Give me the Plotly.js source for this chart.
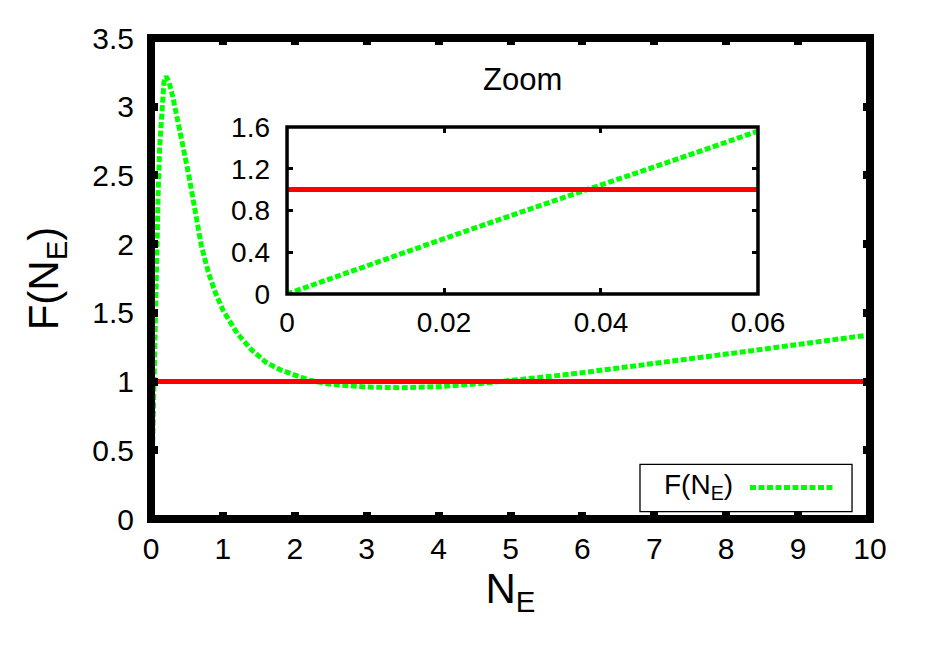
<!DOCTYPE html>
<html>
<head>
<meta charset="utf-8">
<script src="https://cdn.plot.ly/plotly-3.0.1.min.js"></script>
<style>
  html, body { margin: 0; padding: 0; background: #fff; }
  #chart { width: 926px; height: 649px; }
</style>
</head>
<body>
<div id="chart"></div>
<script>
// F(N_E)
var nE = [0, 0.01, 0.02, 0.03, 0.04, 0.05, 0.06, 0.08, 0.10, 0.12, 0.15, 0.18, 0.21,
          0.25, 0.30, 0.35, 0.40, 0.45, 0.50, 0.55, 0.60, 0.70, 0.80, 0.90, 1.0,
          1.1, 1.2, 1.4, 1.6, 1.8, 2.0, 2.2, 2.5, 3.0, 3.5, 4.0, 4.5, 5.0, 5.5,
          6.0, 7.0, 8.0, 9.0, 10.0];
var fNE = [0, 0.27, 0.53, 0.79, 1.04, 1.30, 1.56, 2.00, 2.38, 2.70, 3.02, 3.18, 3.22,
           3.18, 3.08, 2.96, 2.84, 2.70, 2.57, 2.43, 2.29, 1.99, 1.79, 1.64, 1.52,
           1.43, 1.35, 1.23, 1.14, 1.085, 1.045, 1.01, 0.98, 0.96, 0.955, 0.963, 0.982, 1.005, 1.035,
           1.065, 1.13, 1.20, 1.27, 1.34];

// reference line F = 1
var refN = [0, 10];
var refF = [1, 1];

var mainXTicks = [0, 1, 2, 3, 4, 5, 6, 7, 8, 9, 10];
var mainYTicks = [0, 0.5, 1, 1.5, 2, 2.5, 3, 3.5];
var zoomXTicks = [0, 0.02, 0.04, 0.06];
var zoomYTicks = [0, 0.4, 0.8, 1.2, 1.6];

var legendName = "F(N<sub>E</sub>)";

var FONT = "Liberation Sans, Arial, Helvetica, sans-serif";
var GREEN = "#00ff00";
var RED = "#ff0000";
var DOTS = "6px,2.5px";

var traces = [
  { x: nE, y: fNE, xaxis: "x", yaxis: "y", mode: "lines", name: legendName,
    line: { color: GREEN, width: 5, dash: DOTS } },
  { x: refN, y: refF, xaxis: "x", yaxis: "y", mode: "lines",
    line: { color: RED, width: 5 } },
  { x: nE, y: fNE, xaxis: "x2", yaxis: "y2", mode: "lines",
    line: { color: GREEN, width: 5, dash: DOTS } },
  { x: refN, y: refF, xaxis: "x2", yaxis: "y2", mode: "lines",
    line: { color: RED, width: 5 } }
];

function axisBase(ticks, len, w, size, standoff) {
  return {
    tickmode: "array", tickvals: ticks,
    ticks: "inside", ticklen: len, tickwidth: w, tickcolor: "#000",
    mirror: "ticks", showline: false, showgrid: false, zeroline: false,
    tickfont: { family: FONT, size: size, color: "#000" },
    ticklabelstandoff: standoff, fixedrange: true
  };
}

var xMain = axisBase(mainXTicks, 7, 8, 30, 9);
xMain.range = [0, 10];
xMain.anchor = "y";
xMain.title = { text: "N<sub>E</sub>", font: { family: FONT, size: 42, color: "#000" }, standoff: 4 };

var yMain = axisBase(mainYTicks, 7, 8, 30, 16);
yMain.range = [0, 3.5];
yMain.anchor = "x";
yMain.title = { text: "F(N<sub>E</sub>)", font: { family: FONT, size: 42, color: "#000" }, standoff: 20 };

var xZoom = axisBase(zoomXTicks, 6, 3, 28, 9);
xZoom.range = [0, 0.06];
xZoom.domain = [0.1892, 0.8442];
xZoom.anchor = "y2";

var yZoom = axisBase(zoomYTicks, 6, 3, 28, 16);
yZoom.range = [0, 1.6];
yZoom.domain = [0.4678, 0.815];
yZoom.anchor = "x2";

var layout = {
  width: 926, height: 649,
  margin: { l: 151, r: 56, t: 38, b: 130 },
  paper_bgcolor: "#fff", plot_bgcolor: "#fff",
  showlegend: false,
  font: { family: FONT, color: "#000" },
  xaxis: xMain, yaxis: yMain, xaxis2: xZoom, yaxis2: yZoom,
  shapes: [
    // main frame
    { type: "rect", xref: "x domain", yref: "y domain", x0: 0, x1: 1, y0: 0, y1: 1,
      line: { color: "#000", width: 8 }, layer: "above" },
    // inset frame
    { type: "rect", xref: "x2 domain", yref: "y2 domain", x0: 0, x1: 1, y0: 0, y1: 1,
      line: { color: "#000", width: 3.5 }, layer: "above" },
    // legend box
    { type: "rect", xref: "paper", yref: "paper", x0: 0.6801, x1: 0.975, y0: 0.0152, y1: 0.1137,
      line: { color: "#000", width: 1.3 }, fillcolor: "#fff", layer: "above" },
    // legend key
    { type: "line", xref: "paper", yref: "paper", x0: 0.8331, x1: 0.9485, y0: 0.0655, y1: 0.0655,
      line: { color: GREEN, width: 5, dash: DOTS }, layer: "above" }
  ],
  annotations: [
    { text: "Zoom", xref: "x2 domain", yref: "paper", x: 0.5, y: 0.9127,
      xanchor: "center", yanchor: "middle", showarrow: false,
      font: { family: FONT, size: 31, color: "#000" } },
    { text: legendName, xref: "paper", yref: "paper", x: 0.7608, y: 0.068,
      xanchor: "center", yanchor: "middle", showarrow: false,
      font: { family: FONT, size: 28, color: "#000" } }
  ]
};

Plotly.newPlot("chart", traces, layout, { staticPlot: true, displayModeBar: false });
</script>
</body>
</html>
